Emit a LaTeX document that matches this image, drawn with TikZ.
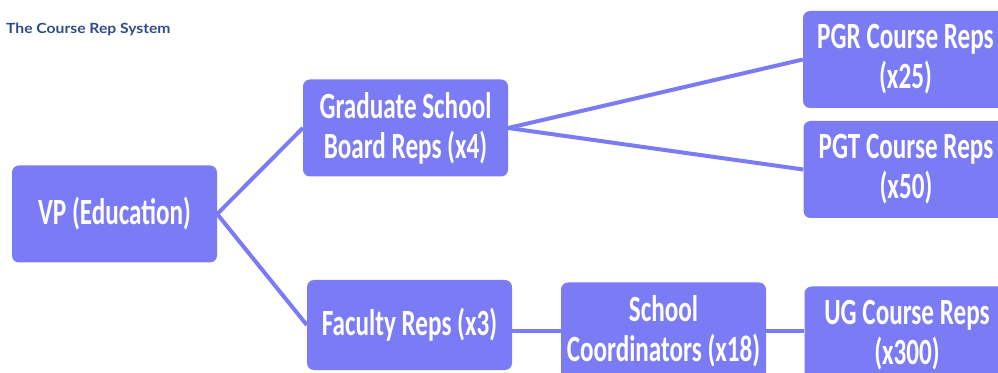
\documentclass[tikz,border=0pt]{standalone}
\usepackage{fontspec}
\newfontfamily\boxfont[FakeStretch=0.68]{Carlito}
\newfontfamily\titlefont[FakeStretch=1.12]{Lato}
\definecolor{boxblue}{RGB}{123,123,245}
\definecolor{titleblue}{RGB}{45,75,140}
\begin{document}
\begin{tikzpicture}[x=1pt,y=1pt,
  rep/.style={fill=boxblue, rounded corners=7pt, minimum width=205pt, minimum height=97pt,
    inner sep=0pt, text=white, align=center, font=\boxfont\bfseries\fontsize{37}{40}\selectfont},
  link/.style={draw=boxblue, line width=4pt}]
\useasboundingbox (0,0) rectangle (998,372);
\clip (0,0) rectangle (998,372);
\node[anchor=west, text=titleblue, font=\titlefont\bfseries\fontsize{14}{16}\selectfont, inner sep=0pt] (title) at (6,343) {The Course Rep System};
\node[rep] (vp) at (114.5,158) {VP (Education)};
\node[rep] (gs) at (405.5,244) {Graduate School\\Board Reps (x4)};
\node[rep] (pgr) at (905.5,312.5) {PGR Course Reps\\(x25)};
\node[rep] (pgt) at (906,202.5) {PGT Course Reps\\(x50)};
\node[rep, minimum height=90pt] (fac) at (409.5,47) {Faculty Reps (x3)};
\node[rep] (sch) at (663.5,41) {School\\Coordinators (x18)};
\node[rep] (ug) at (907,37) {UG Course Reps\\(x300)};
\draw[link] (vp.east) -- (gs.west);
\draw[link] (vp.east) -- (fac.west);
\draw[link] (gs.east) -- (pgr.west);
\draw[link] (gs.east) -- (pgt.west);
\draw[link] (sch.west -| fac.east) -- (sch.west);
\draw[link] (sch.east) -- (sch.east -| ug.west);
\end{tikzpicture}
\end{document}
